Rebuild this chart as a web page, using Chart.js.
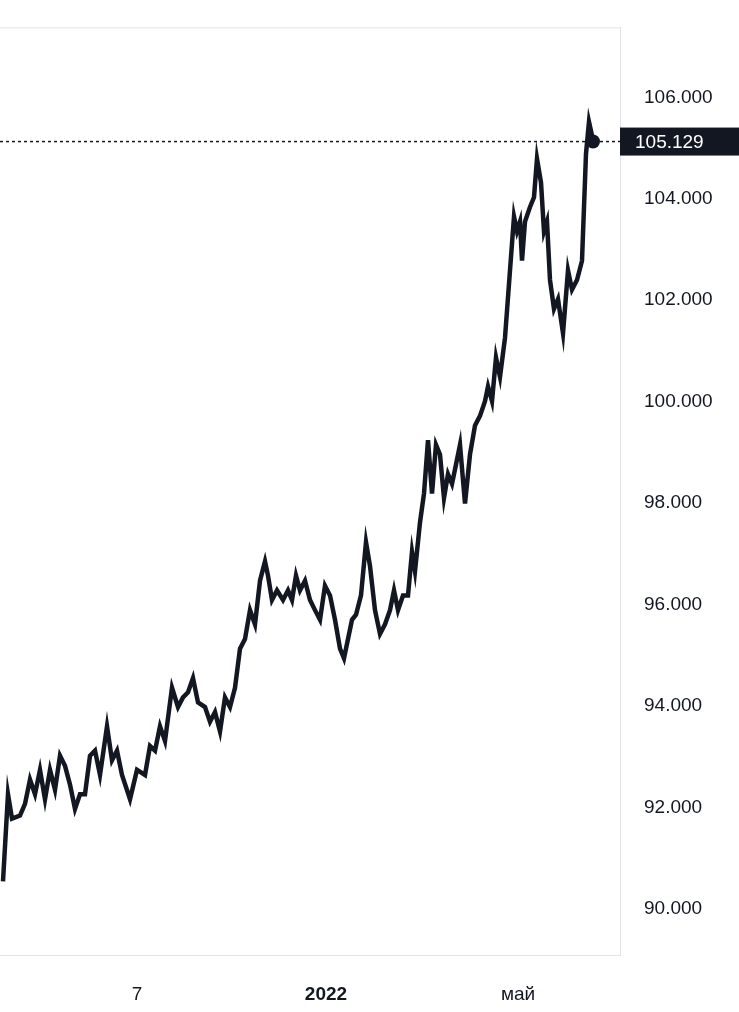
<!DOCTYPE html>
<html>
<head>
<meta charset="UTF-8">
<script src="https://cdn.jsdelivr.net/npm/chart.js@4"></script>
<style>
  * { margin: 0; padding: 0; }
  body { background: #fff; width: 739px; height: 1012px; overflow: hidden; }
  #wrap { position: relative; width: 739px; height: 1012px; }
</style>
</head>
<body>
<div id="wrap"><canvas id="c"></canvas></div>
<script>
const xs = [3,8,12,20,25,30,35,40,45,50,55,60,65,70,75,80,85,90,95,100,107,112,117,122,130,137,145,150,155,160,165,172,178,183,188,193,198,205,210,215,220,225,230,235,240,245,250,255,260,265,268,272,277,283,288,292,296,300,305,310,315,320,325,330,335,340,344,348,352,356,361,366,370,375,380,385,390,394,398,403,408,412,415,420,424,428,432,436,440,444,448,452,456,460,465,470,475,480,485,488,492,496,500,505,510,514,517,520,522,525,530,534,537,541,544,547,550,554,558,563,568,572,577,582,586,589,593]
const prices = [90.54,92.26,91.78,91.84,92.07,92.55,92.26,92.74,92.16,92.74,92.35,93.02,92.82,92.45,91.97,92.26,92.26,93.02,93.12,92.64,93.60,92.93,93.12,92.64,92.16,92.74,92.64,93.21,93.12,93.60,93.31,94.36,93.98,94.17,94.27,94.55,94.07,93.98,93.69,93.88,93.50,94.17,93.98,94.36,95.13,95.32,95.89,95.61,96.47,96.85,96.57,96.09,96.28,96.09,96.28,96.09,96.57,96.28,96.47,96.09,95.89,95.70,96.37,96.18,95.70,95.13,94.94,95.32,95.70,95.80,96.18,97.23,96.76,95.89,95.42,95.61,95.89,96.28,95.89,96.18,96.18,97.04,96.66,97.62,98.19,99.24,98.19,99.15,98.96,98.10,98.57,98.38,98.76,99.15,97.99,98.96,99.53,99.72,100.01,100.30,100.01,100.87,100.49,101.26,102.59,103.65,103.36,103.55,102.78,103.55,103.84,104.03,104.79,104.32,103.36,103.55,102.40,101.83,102.02,101.35,102.59,102.21,102.40,102.78,104.89,105.52,105.16]
const xTickPos = [137, 326, 518]
const xTickText = ['7', '2022', 'май']
const yTicks = [90, 92, 94, 96, 98, 100, 102, 104, 106]
const lastPrice = 105.129

const font = "'Liberation Sans', Arial, sans-serif"

const extras = {
  id: 'extras',
  afterDatasetsDraw(chart) {
    const { ctx, chartArea: a, scales: { x, y } } = chart
    const py = y.getPixelForValue(lastPrice)
    ctx.save()
    ctx.strokeStyle = '#e0e3eb'
    ctx.lineWidth = 1
    ctx.beginPath(); ctx.moveTo(a.left, a.top + 0.5); ctx.lineTo(a.right, a.top + 0.5); ctx.stroke()
    ctx.strokeStyle = '#131722'
    ctx.lineWidth = 1.5
    ctx.setLineDash([3, 3])
    ctx.beginPath(); ctx.moveTo(a.left, py); ctx.lineTo(a.right, py); ctx.stroke()
    ctx.setLineDash([])
    const lx = x.getPixelForValue(xs[xs.length - 1])
    ctx.fillStyle = '#131722'
    ctx.beginPath(); ctx.arc(lx, py, 7, 0, Math.PI * 2); ctx.fill()
    ctx.fillRect(a.right, py - 14, chart.width - a.right, 28)
    ctx.fillStyle = '#fff'
    ctx.font = '19px ' + font
    ctx.textBaseline = 'middle'
    ctx.fillText(lastPrice.toFixed(3), a.right + 15, py + 1)
    ctx.restore()
  }
}

new Chart(document.getElementById('c'), {
  type: 'line',
  data: {
    datasets: [{
      data: xs.map((v, i) => ({ x: v, y: prices[i] })),
      borderColor: '#131722',
      borderWidth: 4.5,
      pointRadius: 0,
      tension: 0
    }]
  },
  options: {
    responsive: true,
    maintainAspectRatio: false,
    animation: false,
    layout: { padding: 0 },
    plugins: { legend: { display: false }, tooltip: { enabled: false } },
    scales: {
      x: {
        type: 'linear', min: 0, max: 620,
        afterFit: s => { s.height = 57 },
        afterBuildTicks: s => { s.ticks = xTickPos.map(v => ({ value: v })) },
        grid: { display: false },
        border: { color: '#e0e3eb' },
        ticks: {
          maxRotation: 0, padding: 20, color: '#131722',
          font: c => ({ family: font, size: 19, weight: c.index === 1 ? 'bold' : 'normal' }),
          callback: (v, i) => xTickText[i]
        }
      },
      y: {
        position: 'right',
        min: 89.09, max: 107.38,
        afterFit: s => { s.width = 119 },
        afterBuildTicks: s => { s.ticks = yTicks.map(v => ({ value: v })) },
        grid: { display: false },
        border: { color: '#e0e3eb' },
        ticks: {
          padding: 16, color: '#131722',
          font: { family: font, size: 19 },
          callback: v => v.toFixed(3)
        }
      }
    }
  },
  plugins: [extras]
})
</script>
</body>
</html>
